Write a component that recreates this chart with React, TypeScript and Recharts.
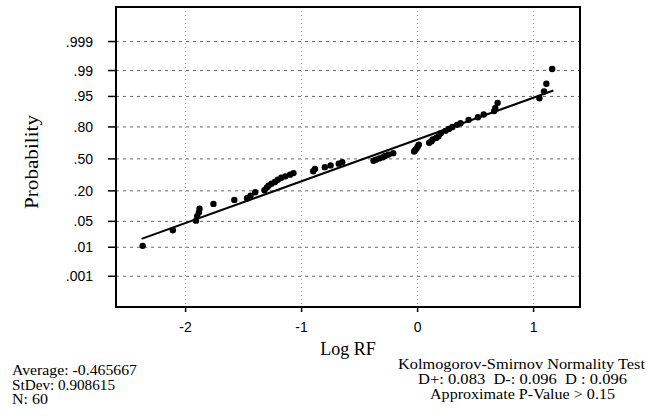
import React from 'react';
import { ScatterChart, Scatter, XAxis, YAxis, CartesianGrid, ReferenceArea } from 'recharts';

// Log RF values, sorted (one per observation)
const logRF = [
  -2.37, -2.11, -1.91, -1.90, -1.885, -1.88, -1.76, -1.58, -1.47, -1.44,
  -1.40, -1.32, -1.30, -1.285, -1.26, -1.23, -1.205, -1.175, -1.14, -1.10,
  -1.07, -0.90, -0.885, -0.80, -0.75, -0.68, -0.65, -0.38, -0.36, -0.33,
  -0.30, -0.28, -0.25, -0.21, -0.03, -0.02, -0.01, 0.0, 0.01, 0.10,
  0.12, 0.13, 0.16, 0.18, 0.20, 0.24, 0.27, 0.30, 0.34, 0.37,
  0.44, 0.52, 0.57, 0.66, 0.67, 0.69, 1.05, 1.09, 1.11, 1.16,
];

// plotted probability for each point
const probability = [
  0.011, 0.030, 0.052, 0.066, 0.080, 0.095, 0.118, 0.140, 0.150, 0.167,
  0.190, 0.205, 0.225, 0.240, 0.257, 0.271, 0.292, 0.310, 0.323, 0.339,
  0.354, 0.372, 0.395, 0.414, 0.432, 0.450, 0.466, 0.480, 0.492, 0.505,
  0.518, 0.530, 0.545, 0.560, 0.578, 0.592, 0.607, 0.625, 0.645, 0.665,
  0.680, 0.695, 0.710, 0.725, 0.750, 0.770, 0.785, 0.800, 0.815, 0.826,
  0.848, 0.864, 0.879, 0.896, 0.910, 0.930, 0.945, 0.962, 0.976, 0.991,
];

const average = -0.465667;
const stDev = 0.908615;
const fitX = [-2.38, 1.17];

const yTickProbs = [0.001, 0.01, 0.05, 0.2, 0.5, 0.8, 0.95, 0.99, 0.999];
const yTickLabels = ['.001', '.01', '.05', '.20', '.50', '.80', '.95', '.99', '.999'];
const xTicks = [-2, -1, 0, 1];

const X_DOMAIN: [number, number] = [-2.6, 1.4];
const Y_DOMAIN: [number, number] = [-3.9, 4];

// inverse normal cdf (Acklam)
function invNorm(p: number): number {
  const a = [-3.969683028665376e1, 2.209460984245205e2, -2.759285104469687e2, 1.38357751867269e2, -3.066479806614716e1, 2.506628277459239];
  const b = [-5.447609879822406e1, 1.615858368580409e2, -1.556989798598866e2, 6.680131188771972e1, -1.328068155288572e1];
  const c = [-7.784894002430293e-3, -3.223964580411365e-1, -2.400758277161838, -2.549732539343734, 4.374664141464968, 2.938163982698783];
  const d = [7.784695709041462e-3, 3.224671290700398e-1, 2.445134137142996, 3.754408661907416];
  const plow = 0.02425;
  if (p < plow) {
    const q = Math.sqrt(-2 * Math.log(p));
    return (((((c[0] * q + c[1]) * q + c[2]) * q + c[3]) * q + c[4]) * q + c[5]) / ((((d[0] * q + d[1]) * q + d[2]) * q + d[3]) * q + 1);
  }
  if (p > 1 - plow) {
    const q = Math.sqrt(-2 * Math.log(1 - p));
    return -(((((c[0] * q + c[1]) * q + c[2]) * q + c[3]) * q + c[4]) * q + c[5]) / ((((d[0] * q + d[1]) * q + d[2]) * q + d[3]) * q + 1);
  }
  const q = p - 0.5;
  const r = q * q;
  return ((((((a[0] * r + a[1]) * r + a[2]) * r + a[3]) * r + a[4]) * r + a[5]) * q) / (((((b[0] * r + b[1]) * r + b[2]) * r + b[3]) * r + b[4]) * r + 1);
}

const points = logRF.map((x, i) => ({ x, z: invNorm(probability[i]) }));
const fitLine = fitX.map(x => ({ x, z: (x - average) / stDev }));
const yTicks = yTickProbs.map(invNorm);

const serif = '"Liberation Serif", "Times New Roman", serif';
const sans = '"Liberation Sans", Arial, sans-serif';

const Dot = (props: any) => <circle cx={props.cx} cy={props.cy} r={3.2} fill="#000" />;

export default function App() {
  return (
    <div style={{ position: 'absolute', left: 0, top: 0, width: 648, height: 418, background: '#fff' }}>
      <ScatterChart width={648} height={418} margin={{ top: 7, right: 68, bottom: 81, left: 0 }}>
        <CartesianGrid vertical={false} stroke="#666" strokeDasharray="3 4" />
        <CartesianGrid horizontal={false} stroke="#aaa" strokeDasharray="1 3" />
        <XAxis
          type="number"
          dataKey="x"
          domain={X_DOMAIN}
          ticks={xTicks}
          allowDataOverflow
          height={30}
          tickSize={5}
          tickMargin={10}
          axisLine={{ stroke: '#000', strokeWidth: 2 }}
          tickLine={{ stroke: '#000', strokeWidth: 1.5 }}
          tick={{ fill: '#000', fontSize: 14, fontFamily: sans }}
        />
        <YAxis
          type="number"
          dataKey="z"
          domain={Y_DOMAIN}
          ticks={yTicks}
          allowDataOverflow
          width={116}
          tickSize={8}
          tickMargin={15}
          interval={0}
          tickFormatter={(v: number) => yTickLabels[yTicks.findIndex(t => Math.abs(t - v) < 1e-6)] ?? ''}
          axisLine={{ stroke: '#000', strokeWidth: 2 }}
          tickLine={{ stroke: '#000', strokeWidth: 1.5 }}
          tick={{ fill: '#000', fontSize: 14, fontFamily: sans }}
        />
        <ReferenceArea x1={X_DOMAIN[0]} x2={X_DOMAIN[1]} y1={Y_DOMAIN[0]} y2={Y_DOMAIN[1]} fill="none" fillOpacity={0} stroke="#000" strokeWidth={2} />
        <Scatter data={points} shape={Dot} isAnimationActive={false} />
        <Scatter data={fitLine} line={{ stroke: '#000', strokeWidth: 2 }} shape={() => <g />} isAnimationActive={false} />
      </ScatterChart>
      <svg width={648} height={418} style={{ position: 'absolute', left: 0, top: 0, pointerEvents: 'none' }}>
        <text x={32} y={162} transform="rotate(-90 32 162)" textAnchor="middle" dominantBaseline="central"
          fontFamily={serif} fontSize={18} textLength={94} lengthAdjust="spacingAndGlyphs">Probability</text>
        <text x={348} y={355} textAnchor="middle" fontFamily={serif} fontSize={18}>Log RF</text>
        <g fontFamily={serif} fontSize={14} fill="#000">
          <text x={12} y={375} textLength={125} lengthAdjust="spacingAndGlyphs">Average: -0.465667</text>
          <text x={12} y={390} textLength={103} lengthAdjust="spacingAndGlyphs">StDev: 0.908615</text>
          <text x={12} y={404} textLength={36} lengthAdjust="spacingAndGlyphs">N: 60</text>
          <text x={398} y={369} textLength={247} lengthAdjust="spacingAndGlyphs">Kolmogorov-Smirnov Normality Test</text>
          <text x={418} y={384} textLength={209} lengthAdjust="spacingAndGlyphs" xmlSpace="preserve">{'D+: 0.083  D-: 0.096  D : 0.096'}</text>
          <text x={430} y={399} textLength={185} lengthAdjust="spacingAndGlyphs">Approximate P-Value &gt; 0.15</text>
        </g>
      </svg>
    </div>
  );
}
